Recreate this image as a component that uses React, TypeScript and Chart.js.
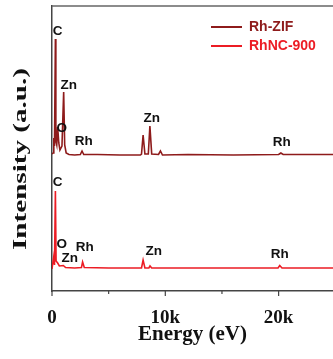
import React, { useEffect, useRef } from "react";
import { Chart, registerables } from "chart.js";

Chart.register(...registerables);

// Rh-ZIF spectrum (energy in eV, intensity in arbitrary units)
const zifEnergy = [0, 100, 160, 220, 300, 340, 420, 500, 600, 700, 880, 1030, 1120, 1250, 1500, 2000, 2500, 2650, 2800, 4000, 6000, 7800, 7900, 8040, 8200, 8500, 8640, 8800, 9400, 9570, 9750, 12000, 16000, 20000, 20200, 20400, 24800];
const zifIntensity = [137, 138, 153, 145, 252, 150, 146, 164, 148, 141, 145, 199, 146, 138, 136.5, 136, 136.5, 140, 136.5, 136.5, 136, 136, 137, 156, 137, 137, 165, 137, 136.5, 140, 136, 136.5, 136, 136.5, 138, 136.5, 136.5];

// RhNC-900 spectrum
const ncEnergy = [0, 150, 220, 300, 360, 500, 650, 1000, 1200, 2000, 2600, 2700, 2850, 5000, 7900, 8040, 8200, 8550, 8650, 8800, 14000, 19950, 20100, 20300, 24800];
const ncIntensity = [22, 34, 26, 100, 30, 28, 25, 25.5, 23.5, 23, 23.5, 29, 23.5, 23, 23, 31, 23, 23, 25, 23, 23, 23, 25.5, 23, 23];

// Peak annotations
const zifLabels = ["C", "Zn", "O", "Rh", "Zn", "Rh"];
const zifLabelX = [503, 1475, 856, 2800, 8800, 20280];
const zifLabelY = [260, 206, 163, 150, 173, 149];
const ncLabels = ["C", "O", "Zn", "Rh", "Zn", "Rh"];
const ncLabelX = [503, 856, 1563, 2887, 8980, 20100];
const ncLabelY = [109, 47, 33, 44, 40, 37];

const seriesNames = ["Rh-ZIF", "RhNC-900"];
const seriesColors = ["#8E1B1B", "#EC1C24"];

const xTicksMajor = [0, 10000, 20000];
const xTicksMinor = [5000, 15000];

const SERIF = "'Liberation Serif', 'Times New Roman', serif";
const SANS = "'Liberation Sans', Arial, sans-serif";

const decorPlugin = {
  id: "decor",
  afterDatasetsDraw(chart: any) {
    const ctx = chart.ctx;
    const ca = chart.chartArea;
    const xs = chart.scales.x;
    const ys = chart.scales.y;
    ctx.save();
    // top frame line
    ctx.strokeStyle = "#666";
    ctx.lineWidth = 1.5;
    ctx.beginPath();
    ctx.moveTo(ca.left, ca.top);
    ctx.lineTo(ca.right, ca.top);
    ctx.stroke();
    // ticks
    ctx.strokeStyle = "#444";
    ctx.lineWidth = 1.2;
    xTicksMajor.forEach((v) => {
      const px = xs.getPixelForValue(v);
      ctx.beginPath();
      ctx.moveTo(px, ca.bottom);
      ctx.lineTo(px, ca.bottom + 5);
      ctx.stroke();
    });
    xTicksMinor.forEach((v) => {
      const px = xs.getPixelForValue(v);
      ctx.beginPath();
      ctx.moveTo(px, ca.bottom);
      ctx.lineTo(px, ca.bottom + 3);
      ctx.stroke();
    });
    // peak labels
    ctx.fillStyle = "#111";
    ctx.font = `bold 13.5px ${SANS}`;
    ctx.textAlign = "center";
    ctx.textBaseline = "middle";
    zifLabels.forEach((t, i) => {
      ctx.fillText(t, xs.getPixelForValue(zifLabelX[i]), ys.getPixelForValue(zifLabelY[i]));
    });
    ncLabels.forEach((t, i) => {
      ctx.fillText(t, xs.getPixelForValue(ncLabelX[i]), ys.getPixelForValue(ncLabelY[i]));
    });
    // legend
    ctx.font = `bold 14px ${SANS}`;
    ctx.textAlign = "left";
    seriesNames.forEach((name, i) => {
      const y = 27 + i * 19;
      ctx.strokeStyle = seriesColors[i];
      ctx.lineWidth = 2;
      ctx.beginPath();
      ctx.moveTo(211, y);
      ctx.lineTo(242, y);
      ctx.stroke();
      ctx.fillStyle = seriesColors[i];
      ctx.fillText(name, 249, y + 0.5);
    });
    // axis titles
    ctx.fillStyle = "#111";
    ctx.font = `bold 21px ${SERIF}`;
    ctx.textAlign = "center";
    ctx.fillText("Energy (eV)", (ca.left + ca.right) / 2, 335);
    ctx.save();
    ctx.translate(21, 159);
    ctx.rotate(-Math.PI / 2);
    ctx.font = `bold 19px ${SERIF}`;
    const w = ctx.measureText("Intensity (a.u.)").width;
    ctx.scale(182 / w, 1);
    ctx.fillText("Intensity (a.u.)", 0, 0);
    ctx.restore();
    ctx.restore();
  },
};

export default function App() {
  const ref = useRef<HTMLCanvasElement>(null);
  useEffect(() => {
    if (!ref.current) return;
    const chart = new Chart(ref.current, {
      type: "line",
      data: {
        datasets: [
          {
            label: seriesNames[0],
            data: zifEnergy.map((x, i) => ({ x, y: zifIntensity[i] })),
            borderColor: seriesColors[0],
            borderWidth: 1.6,
            pointRadius: 0,
            tension: 0,
          },
          {
            label: seriesNames[1],
            data: ncEnergy.map((x, i) => ({ x, y: ncIntensity[i] })),
            borderColor: seriesColors[1],
            borderWidth: 1.6,
            pointRadius: 0,
            tension: 0,
          },
        ],
      },
      options: {
        responsive: false,
        animation: false,
        layout: { padding: { top: 6, right: 0, left: 0, bottom: 0 } },
        plugins: { legend: { display: false }, tooltip: { enabled: false } },
        scales: {
          x: {
            type: "linear",
            min: 0,
            max: 24800,
            grid: { display: false },
            border: { display: true, color: "#444", width: 1.5 },
            afterFit: (s: any) => { s.height = 68; },
            afterBuildTicks: (s: any) => { s.ticks = xTicksMajor.map((v) => ({ value: v })); },
            ticks: {
              padding: 8,
              color: "#111",
              font: { family: SERIF, size: 19, weight: "bold" },
              callback: (v: any) => (v === 0 ? "0" : `${v / 1000}k`),
            },
          },
          y: {
            min: 0,
            max: 285,
            grid: { display: false },
            border: { display: true, color: "#444", width: 1.5 },
            ticks: { display: false },
            afterFit: (s: any) => { s.width = 52; },
          },
        },
      },
      plugins: [decorPlugin],
    });
    return () => chart.destroy();
  }, []);
  return (
    <div style={{ position: "fixed", left: 0, top: 0, width: 333, height: 359, background: "#fff" }}>
      <canvas ref={ref} width={333} height={359} style={{ width: 333, height: 359, display: "block" }} />
    </div>
  );
}
